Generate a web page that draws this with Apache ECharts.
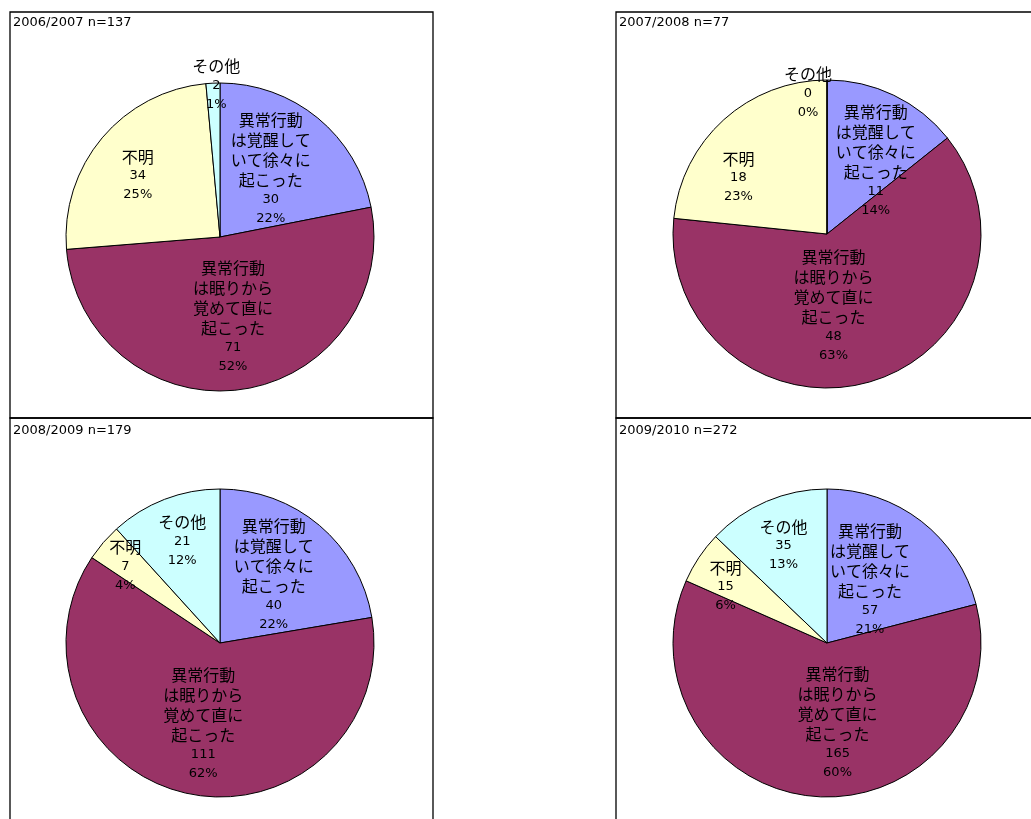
<!DOCTYPE html>
<html><head><meta charset="utf-8">
<script src="https://cdn.jsdelivr.net/npm/echarts@6/dist/echarts.min.js"></script>
<style>html,body{margin:0;padding:0;background:#fff;}#c{width:1031px;height:819px;}</style>
</head><body><div id="c"></div>
<script>
const categories = ['異常行動\nは覚醒して\nいて徐々に\n起こった', '異常行動\nは眠りから\n覚めて直に\n起こった', '不明', 'その他'];
const titles = ['2006/2007 n=137', '2007/2008 n=77', '2008/2009 n=179', '2009/2010 n=272'];
const values2006 = [30, 71, 34, 2];
const values2007 = [11, 48, 18, 0];
const values2008 = [40, 111, 7, 21];
const values2009 = [57, 165, 15, 35];
const pct2006 = [22, 52, 25, 1];
const pct2007 = [14, 63, 23, 0];
const pct2008 = [22, 62, 4, 12];
const pct2009 = [21, 60, 6, 13];

const colors = ['#9999FF', '#993366', '#FFFFCC', '#CCFFFF'];
const FONT = '"Noto Sans CJK JP", sans-serif';
const NUMFONT = '"DejaVu Sans", "Noto Sans CJK JP", sans-serif';

const panels = [
  {vals: values2006, pct: pct2006, center: [220, 237], box: [10, 12, 423, 406], tpos: [13, 16],
   offs: [[0, -6], [2, 1], [-21, -10], [0, -72]]},
  {vals: values2007, pct: pct2007, center: [827, 234], box: [616, 12, 430, 406], tpos: [619, 16],
   offs: [[14, -1], [-16, -5], [-35, 3], [-19, -61]]},
  {vals: values2008, pct: pct2008, center: [220, 643], box: [10, 418, 423, 420], tpos: [13, 424],
   offs: [[2, -7], [0, 3], [-34, -25], [-9, -27]]},
  {vals: values2009, pct: pct2009, center: [827, 643], box: [616, 418, 430, 420], tpos: [619, 424],
   offs: [[-6, 0], [17, 0], [-35, -12], [-12, -24]]}
];

const series = panels.map((p, pi) => ({
  type: 'pie',
  center: p.center,
  radius: 154,
  startAngle: 90,
  clockwise: true,
  avoidLabelOverlap: false,
  silent: true,
  animation: false,
  percentPrecision: 0,
  itemStyle: {borderColor: '#000', borderWidth: 1},
  labelLine: {show: false},
  data: categories.map((c, i) => ({
    name: c,
    value: p.vals[i],
    itemStyle: {color: colors[i]},
    label: {offset: p.offs[i]}
  })),
  label: {
    show: true,
    position: 'inside',
    align: 'center',
    color: '#000',
    fontFamily: FONT,
    formatter: (params) => '{n|' + params.name + '}\n{v|' + params.value + '}\n{v|' + p.pct[params.dataIndex] + '%}',
    rich: {
      n: {fontSize: 16, lineHeight: 20, fontFamily: FONT, color: '#000', align: 'center'},
      v: {fontSize: 13, lineHeight: 19, fontFamily: NUMFONT, color: '#000', align: 'center'}
    }
  }
}));

const graphics = [];
panels.forEach(p => {
  graphics.push({type: 'rect', shape: {x: p.box[0], y: p.box[1], width: p.box[2], height: p.box[3]},
    style: {fill: null, stroke: '#000', lineWidth: 1.3}, z: 10});
});

const chart = echarts.init(document.getElementById('c'));
chart.setOption({
  animation: false,
  backgroundColor: '#fff',
  title: panels.map((p, i) => ({
    text: titles[i], left: p.tpos[0], top: p.tpos[1], padding: 0,
    textStyle: {fontSize: 13, fontWeight: 'normal', color: '#000', fontFamily: NUMFONT}
  })),
  graphic: graphics,
  series: series
});
</script></body></html>
